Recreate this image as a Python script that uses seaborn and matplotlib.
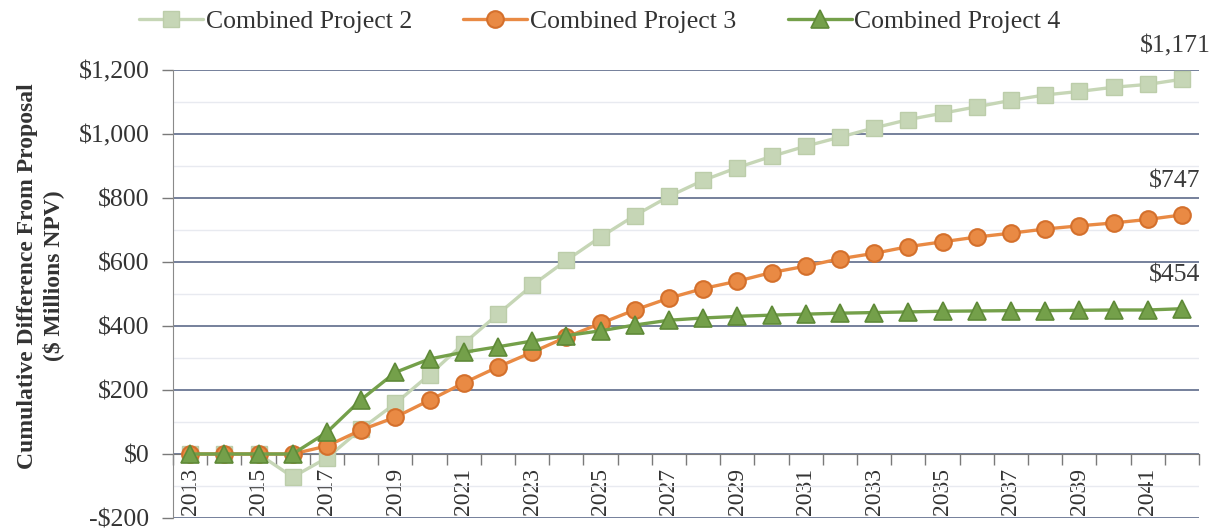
import numpy as np
import pandas as pd
import matplotlib
matplotlib.use("Agg")
import matplotlib.pyplot as plt
from matplotlib.ticker import FixedLocator, FuncFormatter
import seaborn as sns

# -----------------------------------------
# Data
# -----------------------------------------
years = list(range(2013, 2043))
series_names = ["Combined Project 2", "Combined Project 3", "Combined Project 4"]

project_2 = [0, 0, 0, -72, -12, 78, 158, 248, 345, 437, 527, 605, 678, 745, 805,
             855, 895, 930, 962, 990, 1019, 1045, 1065, 1085, 1105, 1122, 1133, 1146, 1155, 1171]
project_3 = [0, 0, 0, 0, 25, 75, 115, 168, 222, 272, 318, 365, 408, 450, 487,
             517, 540, 567, 587, 610, 627, 648, 663, 678, 690, 703, 713, 722, 733, 747]
project_4 = [0, 0, 0, 0, 68, 170, 255, 297, 318, 335, 353, 370, 385, 403, 418,
             425, 430, 434, 437, 440, 442, 444, 446, 447, 448, 448, 449, 450, 450, 454]

y_ticks = [-200, 0, 200, 400, 600, 800, 1000, 1200]
label_years = years[::2]

# -----------------------------------------
# Style
# -----------------------------------------
sns.set_style("white")
plt.rcParams['font.family'] = ['Liberation Serif', 'DejaVu Serif']
text_col = "#333333"
grid_col = "#5d6b8a"
fs_h = 18.5   # horizontal texts
fs_v = 17     # rotated texts

styles = {
    "Combined Project 2": dict(color="#c6d6b6", marker="s", markersize=12,
                               markeredgecolor="#bccdaa", markeredgewidth=1),
    "Combined Project 3": dict(color="#e98a44", marker="o", markersize=12,
                               markeredgecolor="#d4702c", markeredgewidth=1.5),
    "Combined Project 4": dict(color="#74a04a", marker="^", markersize=13,
                               markeredgecolor="#5f8a38", markeredgewidth=1.2),
}

df = pd.DataFrame({"year": years,
                   series_names[0]: project_2,
                   series_names[1]: project_3,
                   series_names[2]: project_4})

fig = plt.figure(figsize=(12.29, 5.31), dpi=100)
ax = fig.add_axes([0.1408, 0.0245, 0.8348, 0.8437])

for name in series_names:
    sns.lineplot(data=df, x="year", y=name, ax=ax, label=name, linewidth=2.4,
                 zorder=3, **styles[name])

# end-of-line value labels
for name in series_names:
    v = df[name].iloc[-1]
    ax.annotate(f"${v:,}", xy=(years[-1], v), xytext=(-5, 24),
                textcoords="offset points", ha="center", va="center",
                fontsize=fs_h, color="#3a3a3a", annotation_clip=False)

# axes limits / ticks
ax.set_xlim(years[0] - 0.5, years[-1] + 0.5)
ax.set_ylim(-200, 1200)
ax.set_yticks(y_ticks)
ax.yaxis.set_major_formatter(FuncFormatter(lambda v, p: f"-${abs(v):,.0f}" if v < 0 else f"${v:,.0f}"))
ax.set_yticks([-100, 100, 300, 500, 700, 900, 1100], minor=True)

ax.xaxis.set_major_locator(FixedLocator(np.arange(years[0] - 0.5, years[-1] + 1, 1)))
ax.xaxis.set_major_formatter(FuncFormatter(lambda v, p: ""))
ax.xaxis.set_minor_locator(FixedLocator(label_years))
ax.xaxis.set_minor_formatter(FuncFormatter(lambda v, p: f"{int(round(v))}"))

ax.tick_params(axis="x", which="major", direction="out", length=8, width=1,
               color="#7a7a7a", bottom=True)
ax.tick_params(axis="x", which="minor", length=0, pad=10, labelsize=fs_v,
               labelcolor=text_col, labelrotation=90, bottom=True)
ax.tick_params(axis="y", which="major", direction="out", length=8, width=1,
               color="#7a7a7a", labelsize=fs_h, labelcolor=text_col, left=True, pad=9)
ax.tick_params(axis="y", which="minor", length=0)

ax.grid(axis="y", which="major", color=grid_col, linewidth=1.2, zorder=0)
ax.grid(axis="y", which="minor", color="#e8eaf0", linewidth=1, zorder=0)
ax.grid(axis="x", visible=False)
ax.set_axisbelow(True)

ax.spines["bottom"].set_position(("data", 0))
ax.spines["bottom"].set_color("#7a7a7a")
ax.spines["bottom"].set_zorder(2)
ax.spines["left"].set_color("#8a8a8a")
ax.spines["top"].set_visible(False)
ax.spines["right"].set_visible(False)

ax.set_xlabel("")
ax.set_ylabel("Cumulative Difference From Proposal\n($ Millions NPV)",
              fontsize=fs_v, fontweight="bold", color=text_col, linespacing=1.27)
ax.yaxis.set_label_coords(-0.106, 0.54)

# legend across the top
handles, labels = ax.get_legend_handles_labels()
ax.get_legend().remove()
fig.legend(handles, labels, loc="upper center", bbox_to_anchor=(0.488, 1.025),
           ncol=3, frameon=False, fontsize=fs_h, handlelength=2.5,
           handletextpad=0.1, columnspacing=2.0, labelcolor=text_col)

fig.savefig("out.png", dpi=100)
